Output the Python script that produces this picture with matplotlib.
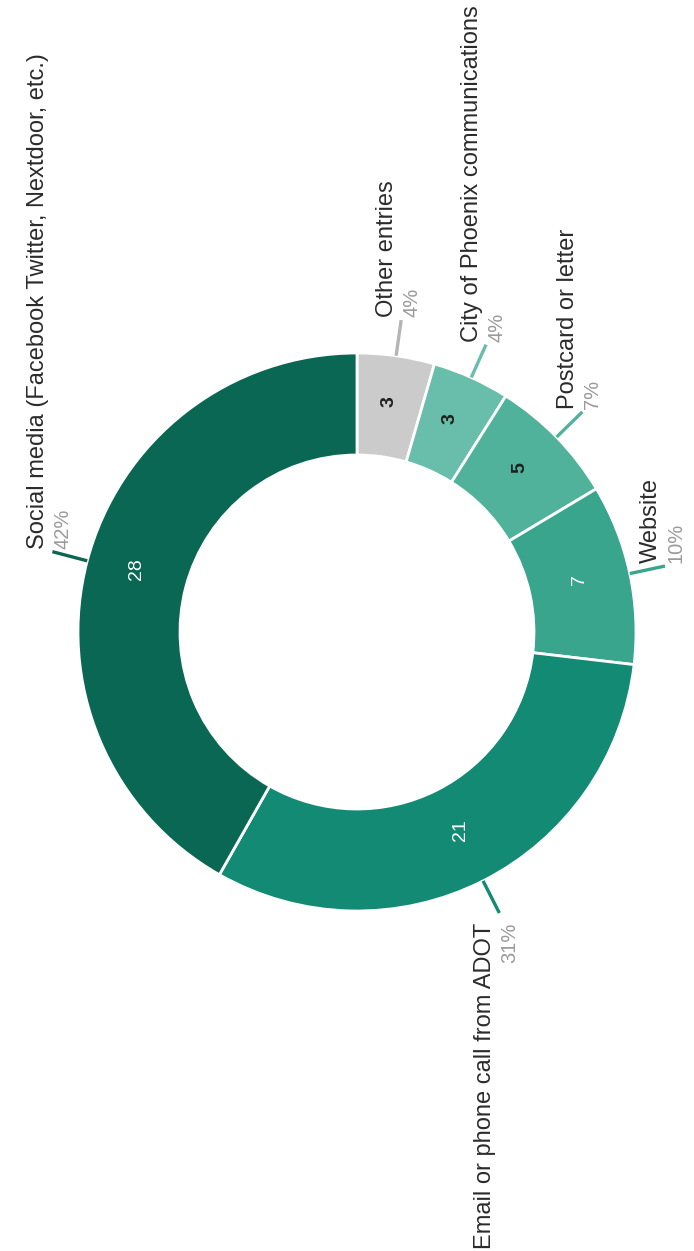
import numpy as np
import matplotlib.pyplot as plt

# Survey answers, listed clockwise from 12 o'clock
sources = [
    "Other entries",
    "City of Phoenix communications",
    "Postcard or letter",
    "Website",
    "Email or phone call from ADOT",
    "Social media (Facebook Twitter, Nextdoor, etc.)",
]
counts = [3, 3, 5, 7, 21, 28]
colors = ["#cbcbcb", "#69bdab", "#51b29c", "#3aa58d", "#138a73", "#0a6753"]
count_colors = ["#1e1e1e", "#1e1e1e", "#1e1e1e", "white", "white", "white"]

W, H = 694, 1251
fig = plt.figure(figsize=(W / 100, H / 100), dpi=100)
ax = fig.add_axes([0, 0, 1, 1])

# work in pixel units so the ring sits where it should on the page
cx, cy = 357, H - 632
R, ring = 279, 102

wedges, _ = ax.pie(
    counts, colors=colors, startangle=90, counterclock=False,
    radius=R, center=(cx, cy),
    wedgeprops=dict(width=ring, edgecolor="white", linewidth=2),
)
ax.set_xlim(0, W)
ax.set_ylim(0, H)
ax.set_aspect("equal")
ax.axis("off")

total = sum(counts)
name_font = dict(family="Liberation Sans", fontsize=17, color="#2b2b2b")
pct_font = dict(family="Liberation Sans", fontsize=14.5, color="#9a9a9a")

for w, name, n, col, tcol in zip(wedges, sources, counts, colors, count_colors):
    mid = np.deg2rad((w.theta1 + w.theta2) / 2)
    ux, uy = np.cos(mid), np.sin(mid)

    # count in the middle of the ring
    rm = R - ring / 2
    ax.text(cx + rm * ux, cy + rm * uy + 5, str(n), rotation=90,
            ha="center", va="center", color=tcol, fontsize=14,
            family="Liberation Sans",
            fontweight="bold" if tcol != "white" else "normal")

    # short radial leader line out of the ring
    x0, y0 = cx + R * ux, cy + R * uy
    x1, y1 = cx + (R + 36) * ux, cy + (R + 36) * uy
    ax.plot([x0, x1], [y0, y1], color=col if col != "#cbcbcb" else "#b5b5b5",
            lw=2.4, solid_capstyle="butt")

    # sideways labels: name on one line, share underneath
    upper = y1 > cy
    ha = "left" if upper else "right"
    pad = 3 if upper else -10
    ax.text(x1 - 3, y1 + pad, name, rotation=90, rotation_mode="anchor",
            ha=ha, va="bottom", **name_font)
    ax.text(x1 + 1, y1 + pad, f"{n / total * 100:.0f}%", rotation=90,
            rotation_mode="anchor", ha=ha, va="top", **pct_font)

fig.savefig("out.png", dpi=100, facecolor="white")
